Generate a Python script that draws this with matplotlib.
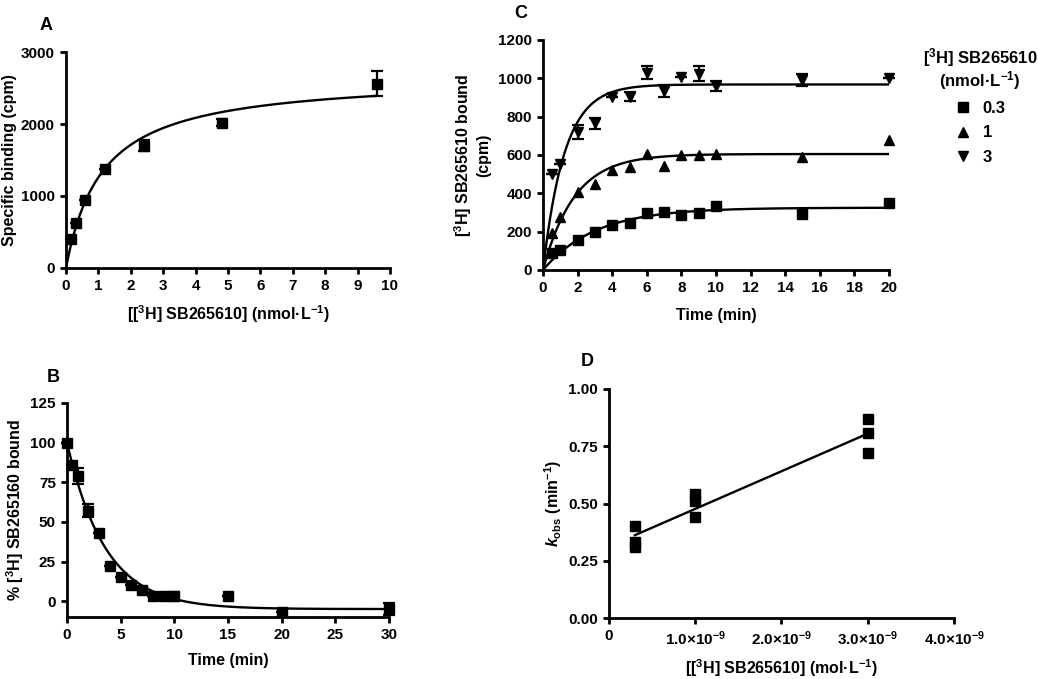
"""Binding kinetics panels A-D for [3H] SB265610"""

import numpy as np
import matplotlib
matplotlib.use('Agg')
import matplotlib.pyplot as plt

plt.rcParams['font.family'] = ['Liberation Sans', 'DejaVu Sans']
plt.rcParams['font.weight'] = 'bold'
plt.rcParams['mathtext.fontset'] = 'custom'
plt.rcParams['mathtext.rm'] = 'Liberation Sans:bold'
plt.rcParams['mathtext.bf'] = 'Liberation Sans:bold'
plt.rcParams['mathtext.it'] = 'Liberation Sans:italic:bold'
plt.rcParams['axes.linewidth'] = 2.0
plt.rcParams['xtick.major.width'] = 2.0
plt.rcParams['ytick.major.width'] = 2.0
plt.rcParams['xtick.major.size'] = 4.5
plt.rcParams['ytick.major.size'] = 4.5
plt.rcParams['xtick.labelsize'] = 11
plt.rcParams['ytick.labelsize'] = 11
plt.rcParams['axes.labelweight'] = 'bold'
plt.rcParams['axes.labelsize'] = 11.5

# ---- Panel A: saturation binding
sat_conc = [0.15, 0.3, 0.6, 1.2, 2.4, 4.8, 9.6]
sat_bound = [400, 630, 950, 1380, 1700, 2020, 2560]
sat_err = [0, 0, 0, 0, 80, 50, 170]
sat_bmax, sat_kd = 2670, 1.12

# ---- Panel B: dissociation
diss_time = [0, 0.5, 1, 2, 3, 4, 5, 6, 7, 8, 9, 10, 15, 20, 30]
diss_pct = [100, 86, 79, 57, 43, 22, 15, 10, 7, 3, 3, 3, 3, -7, -5]
diss_err = [0, 0, 5, 4, 0, 0, 0, 0, 0, 0, 0, 3, 0, 0, 4]
diss_y0, diss_plateau, diss_k = 100, -5, 0.28

# ---- Panel C: association at three concentrations
assoc_time = [0.5, 1, 2, 3, 4, 5, 6, 7, 8, 9, 10, 15, 20]
assoc_03 = [90, 105, 155, 200, 235, 245, 295, 305, 285, 295, 335, 290, 350]
assoc_1 = [195, 275, 405, 450, 520, 535, 605, 545, 600, 600, 605, 590, 680]
assoc_3 = [500, 555, 720, 765, 900, 905, 1030, 935, 1005, 1025, 960, 990, 1000]
assoc_3_err = [0, 0, 35, 30, 0, 25, 35, 30, 0, 40, 25, 30, 0]
assoc_labels = ['0.3', '1', '3']
assoc_markers = ['s', '^', 'v']
assoc_ymax = [325, 605, 968]
assoc_k = [0.33, 0.55, 0.8]

# ---- Panel D: kobs vs concentration
kobs_conc = [0.3e-9, 0.3e-9, 0.3e-9, 1e-9, 1e-9, 1e-9, 3e-9, 3e-9, 3e-9]
kobs_val = [0.40, 0.33, 0.31, 0.54, 0.51, 0.44, 0.87, 0.81, 0.72]

W, H = 1038, 679
fig = plt.figure(figsize=(W / 100, H / 100), dpi=100)


def px_axes(left, top, right, bottom):
    return fig.add_axes([left / W, 1 - bottom / H, (right - left) / W, (bottom - top) / H])


def style(ax):
    ax.spines['top'].set_visible(False)
    ax.spines['right'].set_visible(False)
    for t in ax.get_xticklabels() + ax.get_yticklabels():
        t.set_fontweight('bold')


msz = 7.5
eb = dict(fmt='none', ecolor='black', elinewidth=1.6, capsize=4.5, capthick=1.6, clip_on=False)

# A
axA = px_axes(66, 52, 390, 268)
xa = np.linspace(0, 9.6, 200)
axA.plot(xa, sat_bmax * xa / (sat_kd + xa), color='black', lw=1.7)
axA.errorbar(sat_conc, sat_bound, yerr=sat_err, **eb)
axA.plot(sat_conc, sat_bound, 's', color='black', ms=msz, clip_on=False)
axA.set_xlim(0, 10)
axA.set_ylim(0, 3000)
axA.set_xticks(range(0, 11))
axA.set_yticks([0, 1000, 2000, 3000])
axA.set_xlabel(r'[[$^{3}$H] SB265610] (nmol·L$^{-1}$)', labelpad=7)
axA.set_ylabel('Specific binding (cpm)', labelpad=3)
style(axA)

# C
axC = px_axes(543, 40, 889, 270)
xc = np.linspace(0, 20, 300)
for series, lab, mk, ym, k in zip([assoc_03, assoc_1, assoc_3], assoc_labels,
                                   assoc_markers, assoc_ymax, assoc_k):
    axC.plot(xc, ym * (1 - np.exp(-k * xc)), color='black', lw=1.7)
    axC.plot(assoc_time, series, mk, color='black', ms=msz, clip_on=False, label=lab)
axC.errorbar(assoc_time, assoc_3, yerr=assoc_3_err, **eb)
axC.set_xlim(0, 20)
axC.set_ylim(0, 1200)
axC.set_xticks(range(0, 21, 2))
axC.set_yticks(range(0, 1201, 200))
axC.set_xlabel('Time (min)', labelpad=9)
axC.set_ylabel('[$^{3}$H] SB265610 bound\n(cpm)', labelpad=5)
leg = fig.legend(*axC.get_legend_handles_labels(),
                 title='[$^{3}$H] SB265610\n(nmol·L$^{-1}$)', loc='upper center',
                 bbox_to_anchor=(980 / W, 1 - 38 / H), frameon=False, borderpad=0,
                 handlelength=1.0, handletextpad=0.7, markerscale=0.9,
                 prop={'weight': 'bold', 'size': 12}, labelspacing=0.55)
leg.get_title().set_fontweight('bold')
leg.get_title().set_fontsize(12)
leg.get_title().set_multialignment('center')
leg.get_title().set_linespacing(1.0)
style(axC)

# B
axB = px_axes(67, 403, 389, 617)
xb = np.linspace(0, 30, 300)
axB.plot(xb, (diss_y0 - diss_plateau) * np.exp(-diss_k * xb) + diss_plateau,
         color='black', lw=1.7)
axB.errorbar(diss_time, diss_pct, yerr=diss_err, **eb)
axB.plot(diss_time, diss_pct, 's', color='black', ms=msz, clip_on=False)
axB.set_xlim(0, 30)
axB.set_ylim(-10, 125)
axB.set_xticks(range(0, 31, 5))
axB.set_yticks(range(0, 126, 25))
axB.set_xlabel('Time (min)', labelpad=8)
axB.set_ylabel('% [$^{3}$H] SB265160 bound', labelpad=3)
style(axB)

# D
axD = px_axes(609, 389, 954, 618)
slope, icpt = np.polyfit(np.array(kobs_conc) * 1e9, kobs_val, 1)
xd = np.array([0.3, 3.0])
axD.plot(xd * 1e-9, slope * xd + icpt, color='black', lw=1.7)
axD.plot(kobs_conc, kobs_val, 's', color='black', ms=msz, clip_on=False)
axD.set_xlim(0, 4e-9)
axD.set_ylim(0, 1.0)
axD.set_xticks([0, 1e-9, 2e-9, 3e-9, 4e-9])
axD.set_xticklabels(['0', r'1.0×10$^{-9}$', r'2.0×10$^{-9}$', r'3.0×10$^{-9}$', r'4.0×10$^{-9}$'])
axD.set_yticks([0, 0.25, 0.5, 0.75, 1.0])
axD.set_yticklabels(['0.00', '0.25', '0.50', '0.75', '1.00'])
axD.set_xlabel(r'[[$^{3}$H] SB265610] (mol·L$^{-1}$)', labelpad=7)
axD.set_ylabel(r'$k_{\mathrm{obs}}$ (min$^{-1}$)', labelpad=3)
style(axD)

# panel letters
for letter, x, y in [('A', 46, 25), ('C', 521, 14), ('B', 53, 378), ('D', 587, 361)]:
    fig.text(x / W, 1 - y / H, letter, fontsize=13, fontweight='bold', ha='center', va='center')

fig.savefig('out.png', dpi=100)
